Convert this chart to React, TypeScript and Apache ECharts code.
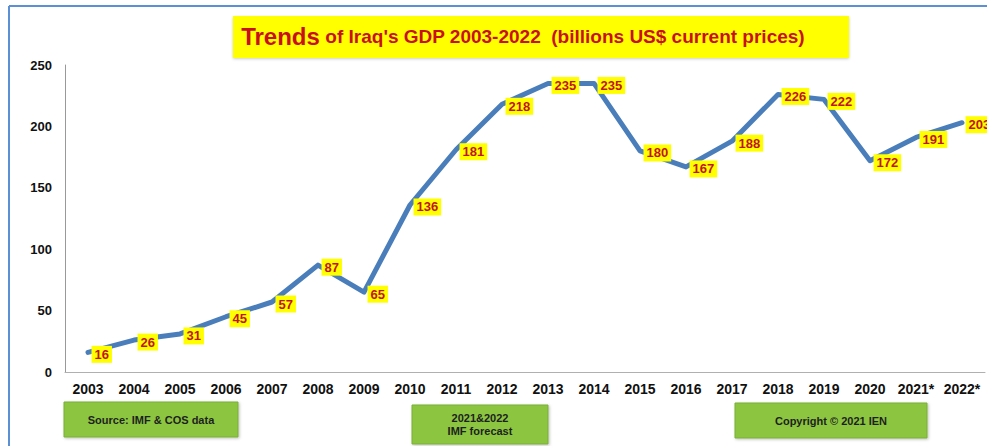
import React, { useEffect, useRef } from "react";
import * as echarts from "echarts";

const years = ["2003","2004","2005","2006","2007","2008","2009","2010","2011","2012","2013","2014","2015","2016","2017","2018","2019","2020","2021*","2022*"];
const gdp = [16, 26, 31, 45, 57, 87, 65, 136, 181, 218, 235, 235, 180, 167, 188, 226, 222, 172, 191, 203];
const yTicks = { min: 0, max: 250, interval: 50 };
const titleMain = "Trends";
const titleRest = " of Iraq's GDP 2003-2022  (billions US$ current prices)";
const sourceNote = "Source: IMF & COS data";
const forecastNote = "2021&2022\nIMF forecast";
const copyrightNote = "Copyright © 2021 IEN";

const FONT = "'Liberation Sans', Arial, sans-serif";

function greenBox(x: number, y: number, w: number, h: number, text: string) {
  return {
    type: "group",
    x,
    y,
    children: [
      {
        type: "rect",
        shape: { x: 0, y: 0, width: w, height: h },
        style: {
          fill: "#8cc63f",
          stroke: "#7aae36",
          lineWidth: 1,
          shadowBlur: 3,
          shadowColor: "rgba(0,0,0,0.25)",
          shadowOffsetX: 1,
          shadowOffsetY: 1,
        },
      },
      {
        type: "text",
        x: w / 2,
        y: h / 2,
        style: {
          text,
          fill: "#1e1e1e",
          font: `bold 11px ${FONT}`,
          align: "center",
          verticalAlign: "middle",
          lineHeight: 13,
        },
      },
    ],
  };
}

export default function App() {
  const ref = useRef<HTMLDivElement>(null);
  useEffect(() => {
    if (!ref.current) return;
    const chart = echarts.init(ref.current, undefined, { renderer: "svg" });
    chart.setOption({
      animation: false,
      backgroundColor: "#ffffff",
      grid: { left: 65, right: 2, top: 65, bottom: 74, containLabel: false },
      xAxis: {
        type: "category",
        data: years,
        boundaryGap: true,
        axisLine: { lineStyle: { color: "#b0b0b0", width: 1 } },
        axisTick: { show: false },
        axisLabel: {
          color: "#111",
          fontWeight: "bold",
          fontSize: 14,
          fontFamily: FONT,
          margin: 10,
          interval: 0,
        },
      },
      yAxis: {
        type: "value",
        min: yTicks.min,
        max: yTicks.max,
        interval: yTicks.interval,
        splitLine: { show: false },
        axisLine: { show: true, lineStyle: { color: "#999", width: 1 } },
        axisTick: { show: false },
        axisLabel: {
          color: "#111",
          fontWeight: "bold",
          fontSize: 13,
          fontFamily: FONT,
          margin: 13,
        },
      },
      series: [
        {
          type: "line",
          data: gdp,
          showSymbol: true,
          symbol: "circle",
          symbolSize: 1,
          itemStyle: { color: "rgba(74,126,187,0)" },
          lineStyle: { color: "#4a7ebb", width: 5, join: "round", cap: "round" },
          label: {
            show: true,
            position: "right",
            distance: 3,
            offset: [0, 2],
            color: "#c0141c",
            fontWeight: "bold",
            fontSize: 13,
            fontFamily: FONT,
            backgroundColor: "#ffff00",
            padding: [2, 3, 1, 3],
            lineHeight: 14,
          },
        },
      ],
      graphic: [
        {
          type: "line",
          shape: { x1: 9, y1: 6, x2: 987, y2: 6 },
          style: { stroke: "#5b8fd6", lineWidth: 2 },
        },
        {
          type: "line",
          shape: { x1: 9, y1: 6, x2: 9, y2: 446 },
          style: { stroke: "#5b8fd6", lineWidth: 2 },
        },
        {
          type: "rect",
          shape: { x: 233, y: 16, width: 616, height: 42 },
          style: {
            fill: "#ffff00",
            shadowBlur: 3,
            shadowColor: "rgba(0,0,0,0.2)",
            shadowOffsetY: 1,
          },
        },
        {
          type: "text",
          x: 523,
          y: 36,
          style: {
            text: `{a|${titleMain}}{b|${titleRest}}`,
            align: "center",
            verticalAlign: "middle",
            rich: {
              a: { font: `bold 24px ${FONT}`, fill: "#c8101a", color: "#c8101a" },
              b: { font: `bold 19px ${FONT}`, fill: "#c8101a", color: "#c8101a" },
            },
          },
        },
        greenBox(64, 402, 174, 35, sourceNote),
        greenBox(412, 405, 136, 39, forecastNote),
        greenBox(735, 403, 192, 35, copyrightNote),
      ],
    });
    return () => chart.dispose();
  }, []);
  return (
    <div
      ref={ref}
      style={{ position: "absolute", left: 0, top: 0, width: 987, height: 446 }}
    />
  );
}
